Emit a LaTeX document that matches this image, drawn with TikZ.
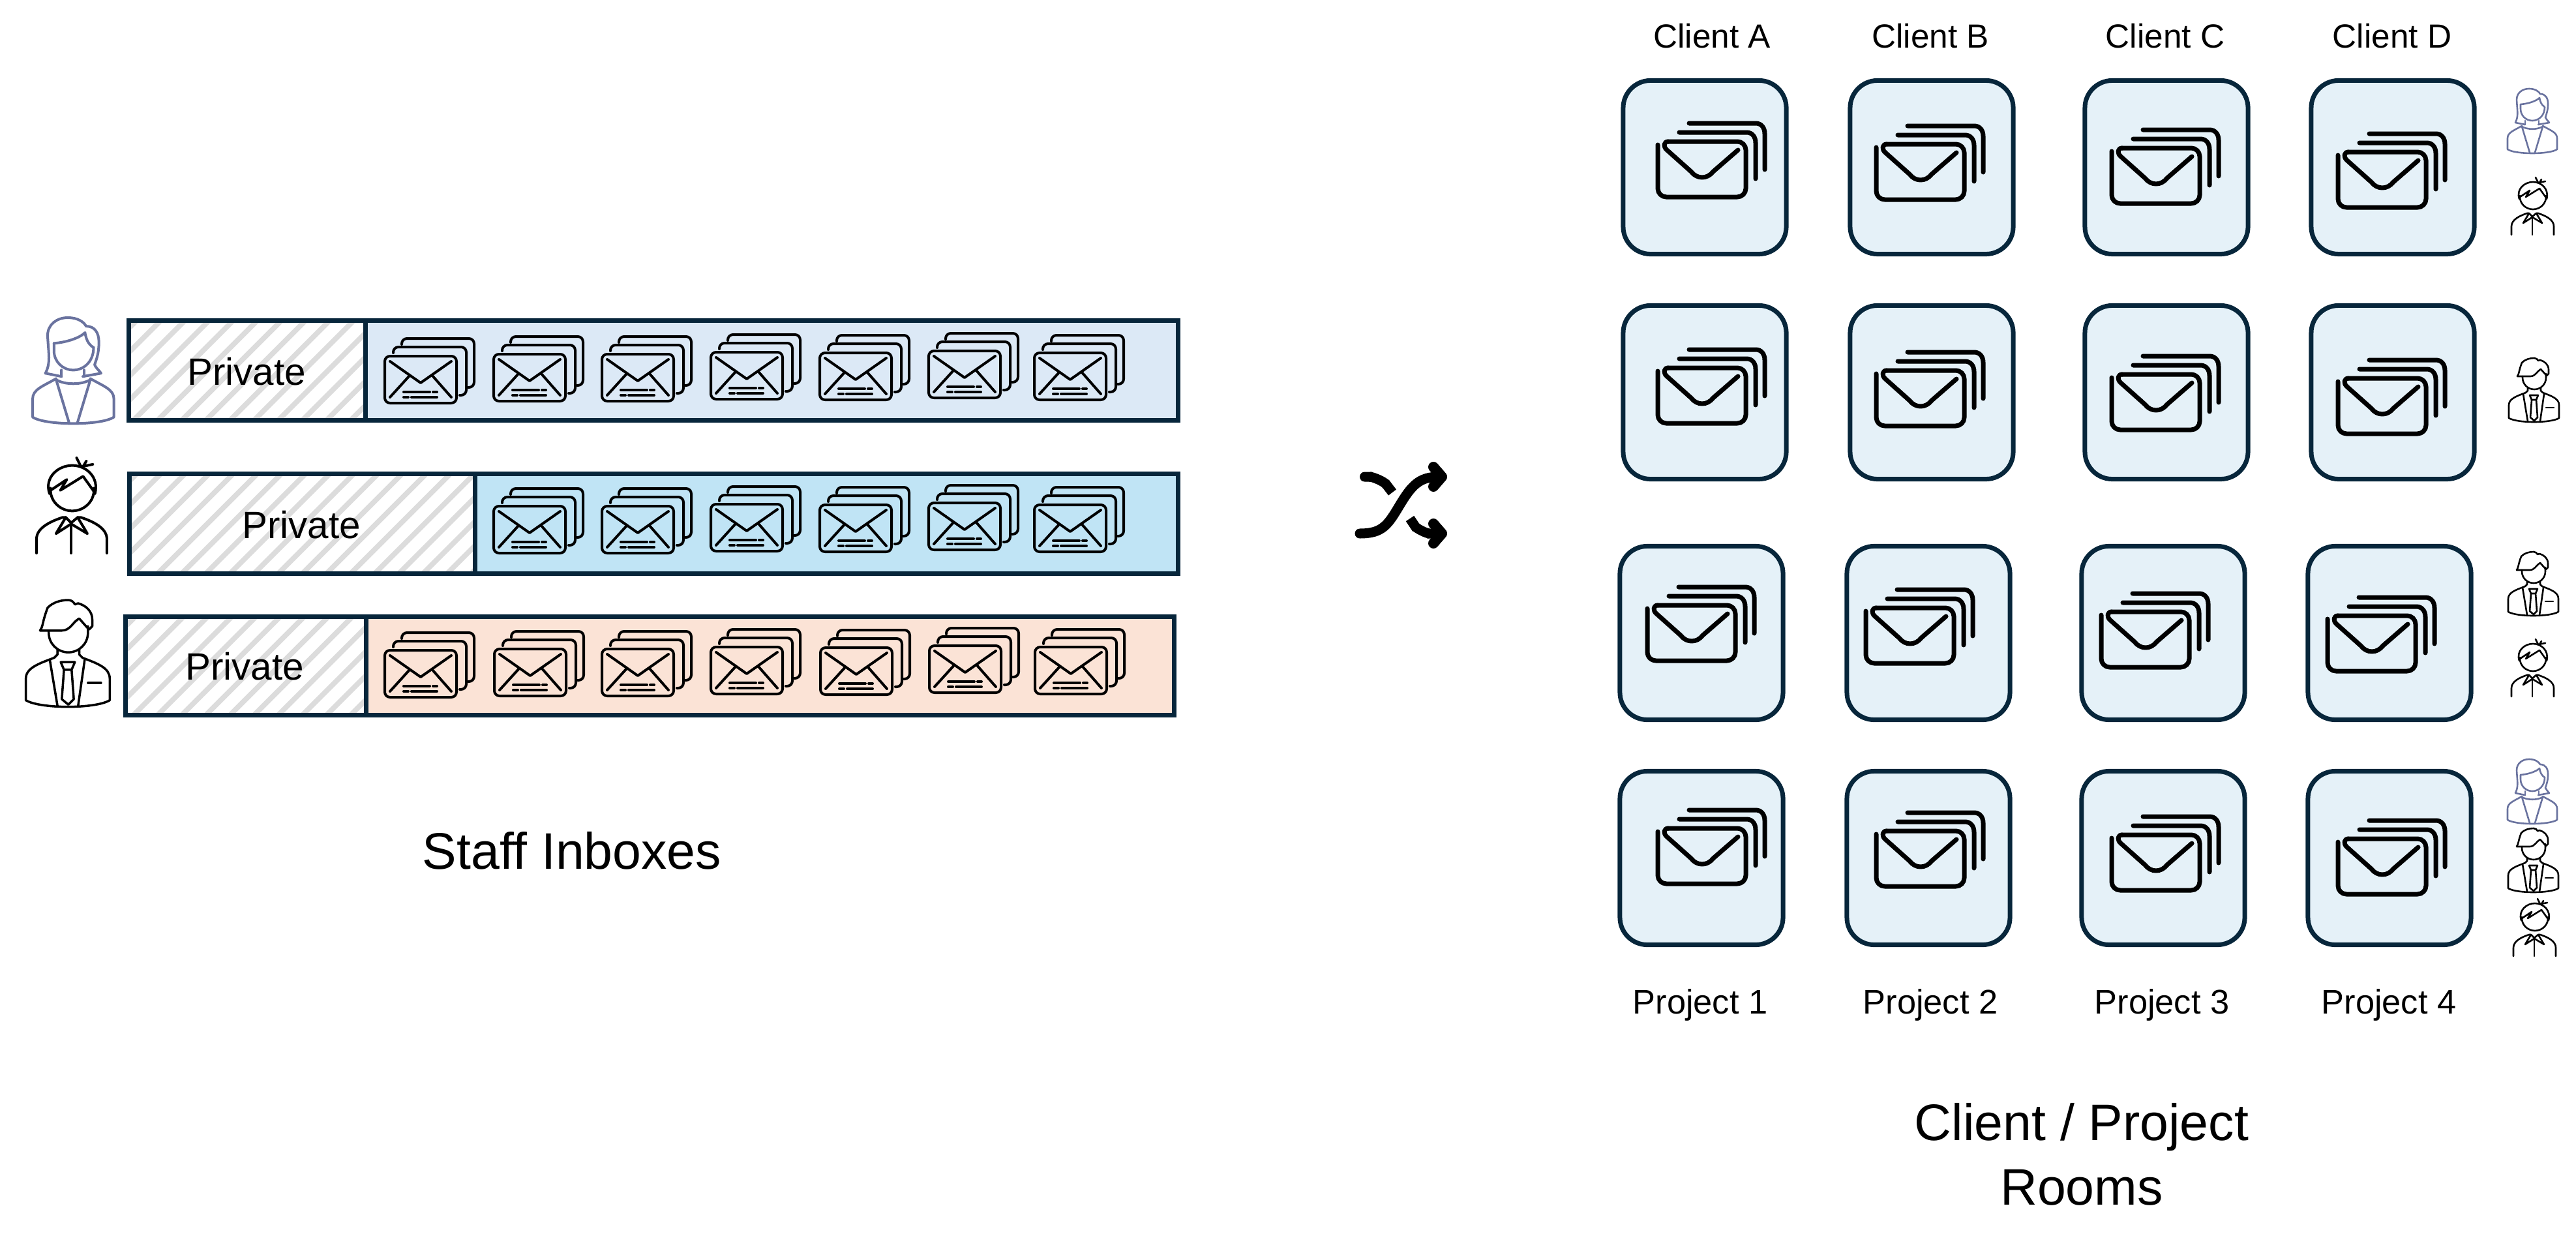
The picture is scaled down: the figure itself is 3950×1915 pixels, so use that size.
\documentclass[tikz,border=0pt]{standalone}
\usepackage{fontspec}
\setmainfont{Liberation Sans}
\usetikzlibrary{arrows.meta}
\definecolor{edge}{HTML}{07263B}
\definecolor{tilefill}{HTML}{E5F1F8}
\definecolor{blueA}{HTML}{DCE9F6}
\definecolor{blueB}{HTML}{C0E4F5}
\definecolor{peach}{HTML}{FBE3D6}
\definecolor{hatchgray}{HTML}{DCDCDC}
\definecolor{staffblue}{HTML}{6A739F}
\tikzset{
  lw/.style={line width=#1*0.2845pt},
  icon/.style={line cap=round,line join=round},
  % stack of letters in the inbox bars
  smail/.pic={
    \draw[rounded corners=.08cm] (2,2) rectangle (112,74);
    \draw[rounded corners=.08cm] (15,-3) -- (15,-12) -- (127,-12) -- (127,62) -- (117,62);
    \draw[rounded corners=.08cm] (28,-16) -- (28,-25) -- (139,-25) -- (139,50) -- (130,50);
    \draw (10,10) -- (57,43) -- (104,10);
    \draw (40,32) -- (10,65) (75,32) -- (104,65);
    \draw (31,57) -- (71,57) (76,57) -- (82,57) (31,65) -- (38,65) (43,65) -- (82,65);
  },
  % stack of letters in the rooms
  bmail/.pic={
    \draw[rounded corners=.13cm] (0,5) -- (0,85) -- (135,85) -- (135,0) -- (16,0);
    \draw (16,0) .. controls (9,0) and (8,8) .. (14,13) -- (51,46) .. controls (60,58) and (76,58) .. (85,46) -- (123,13);
    \draw (33,-14) -- (136,-14) .. controls (145,-14) and (150,-7) .. (150,2) -- (150,57);
    \draw (48,-28) -- (150,-28) .. controls (159,-28) and (164,-21) .. (164,-12) -- (164,43);
  },
  woman/.pic={
    \draw (12,52) .. controls (17,42) and (15,35) .. (14,17) .. controls (14,6) and (23,0) .. (33,0)
      .. controls (42,0) and (48,4) .. (50,8) .. controls (58,8) and (62,14) .. (62,23)
      .. controls (62,33) and (60,38) .. (58,44) .. controls (59,47) and (62,49) .. (64,52) -- (47,55);
    \draw (12,52) -- (27,55);
    \draw (20,24) .. controls (32,23) and (44,19) .. (49,14) .. controls (50,20) and (52,25) .. (57,28);
    \draw (20,24) -- (20,31) .. controls (20,41) and (28,49) .. (38,49) .. controls (48,49) and (57,41) .. (57,28);
    \draw (27,49) -- (27,55) (48,49) -- (48,55);
    \draw (22,58) .. controls (30,63) and (46,63) .. (54,58);
    \draw (22,57) .. controls (10,64) and (0,67) .. (0,76) -- (0,93) .. controls (12,101) and (64,101) .. (76,93) -- (76,76) .. controls (76,67) and (66,64) .. (54,57);
    \draw (22,58) -- (34,98) (54,58) -- (42,98);
  },
  boy/.pic={
    \draw (37,0) -- (41,8) (52,6) -- (42,8) (46,3) -- (43,8);
    \draw (12,33) .. controls (7,18) and (20,7) .. (33,7) .. controls (46,7) and (58,18) .. (54,33);
    \draw (13,30) -- (28,20) -- (22,30) -- (43,17) -- (53,31);
    \draw (13,28) .. controls (12,40) and (22,49) .. (33,49) .. controls (44,49) and (54,40) .. (53,28);
    \draw (0,88) -- (0,75) .. controls (0,65) and (12,59) .. (24,55) -- (27,55) -- (18,70) -- (32,61) -- (47,70) -- (38,55) -- (41,55) .. controls (53,59) and (65,65) .. (65,75) -- (65,88);
    \draw (27,55) -- (32,60) -- (38,55);
    \draw (32,61) -- (32,88);
  },
  man/.pic={
    \draw (14,28) .. controls (17,24) and (16,20) .. (21,7) .. controls (26,2) and (33,0) .. (40,0) .. controls (43,0) and (45,2) .. (46,4) -- (49,3)
      .. controls (56,5) and (62,10) .. (62,18) -- (62,24) -- (59,27);
    \draw (14,28) -- (34,28) .. controls (42,28) and (44,20) .. (50,17) -- (58,26);
    \draw (22,28) -- (22,30) .. controls (22,40) and (30,48) .. (40,48) .. controls (50,48) and (58,40) .. (58,30) -- (58,24);
    \draw (30,46) -- (30,50) -- (27,53) (50,46) -- (50,50) -- (53,53);
    \draw (27,53) .. controls (14,58) and (1,62) .. (1,72) -- (1,92) .. controls (14,100) and (65,100) .. (78,92) -- (78,72) .. controls (78,62) and (66,58) .. (53,53);
    \draw (23,55) -- (30,97) (55,55) -- (49,97);
    \draw (33,57) -- (46,57) -- (43,64) -- (36,64) -- cycle;
    \draw (36,64) -- (34,91) -- (40,96) -- (45,91) -- (43,64);
    \draw (58,76) -- (70,76);
  },
}
\begin{document}
\begin{tikzpicture}[x=0.01cm,y=-0.01cm,
  room/.style={draw=edge,lw=7,fill=tilefill,rounded corners=.42cm,minimum width=2.5cm,minimum height=2.66cm},
  privlabel/.style={font=\fontsize{16.6}{20}\selectfont,anchor=base},
  clientlabel/.style={font=\fontsize{14.6}{18}\selectfont,anchor=base},
  projlabel/.style={font=\fontsize{14.9}{18}\selectfont,anchor=base},
  biglabel/.style={font=\fontsize{22.4}{28}\selectfont,align=center}]
  \useasboundingbox (0,0) rectangle (3950,1915);
  % inbox bars
  \foreach \nm/\xa/\xb/\xc/\ya/\yb/\tint/\tx in {barA/197/560/1806/491/644/blueA/378,barB/198/728/1806/726/879/blueB/462,barC/192/561/1800/945/1096/peach/375} {
    \fill[\tint] (\xb,\ya) rectangle (\xc,\yb);
    \begin{scope}
      \clip (\xa,\ya) rectangle (\xb,\yb);
      \foreach \s in {0,37,...,1000} \draw[hatchgray,lw=8] (\s,\yb+20) -- (\s+200,\yb-180);
    \end{scope}
    \draw[edge,lw=7] (\xa,\ya) rectangle (\xc,\yb) (\xb,\ya) -- (\xb,\yb);
    \node[privlabel] (\nm) at (\tx,\yb-54) {Private};
  }
  % letters in the bars
  \begin{scope}[icon,lw=4]
    \foreach \mx/\my in {588/544,755/541,921/541,1088/538,1255/539,1422/536,1584/539,
                         755/774,921/774,1088/771,1255/772,1422/769,1584/772,
                         588/995,756/993,921/993,1088/990,1256/991,1423/988,1585/990}
      \pic at (\mx,\my) {smail};
  \end{scope}
  % staff
  \pic[icon,lw=4,staffblue,scale=1.64] at (50,487) {woman};
  \pic[icon,lw=4,scale=1.66] at (56,702) {boy};
  \pic[icon,lw=3.5,scale=1.67] at (38,920) {man};
  \node[biglabel,anchor=base] (staff) at (877,1332) {Staff Inboxes};
  % shuffle
  \draw[lw=15,{Round Cap[]}-{Butt Cap[]}] (2085,731) .. controls (2105,731) and (2122,738) .. (2135,755);
  \draw[lw=15,line cap=round] (2085,818) .. controls (2120,818) and (2128,805) .. (2146,775) .. controls (2164,745) and (2176,731) .. (2206,731);
  \draw[lw=15,{Butt Cap[]}-{Round Cap[]}] (2162,795) .. controls (2172,810) and (2187,818) .. (2207,818);
  \draw[lw=16,icon] (2198,716) -- (2211,731) -- (2198,746) (2198,803) -- (2211,818) -- (2198,833);
  % rooms
  \foreach \r/\ty/\tshift/\mbase/\mshift in {1/120/0/217/0,2/465/0/564/0,3/834/-5/928/-16,4/1179/-5/1270/0} {
    \foreach \c/\tx/\mx/\mo in {1/2486/2542/0,2/2834/2877/4,3/3194/3238/10,4/3541/3585/16} {
      \node[room] (t\r\c) at (\tx+\tshift+128,\ty+136.5) {};
      \pic[icon,lw=7] at (\mx+\mshift,\mbase+\mo) {bmail};
    }
  }
  % who is in which room
  \begin{scope}[icon,lw=2.6]
    \pic[staffblue] at (3845,136) {woman};
    \pic at (3851,272) {boy};
    \pic at (3846,549) {man};
    \pic at (3845,846) {man};
    \pic at (3851,980) {boy};
    \pic[staffblue] at (3845,1164) {woman};
    \pic at (3845,1270) {man};
    \pic at (3854,1378) {boy};
  \end{scope}
  % labels
  \foreach \nm/\tx/\lab in {ca/2625/Client A,cb/2960/Client B,cc/3320/Client C,cd/3668/Client D}
    \node[clientlabel] (\nm) at (\tx,73) {\lab};
  \foreach \nm/\tx/\lab in {pa/2607/Project 1,pb/2960/Project 2,pc/3315/Project 3,pd/3663/Project 4}
    \node[projlabel] (\nm) at (\tx,1554) {\lab};
  \node[biglabel] (rooms) at (3192,1770) {Client / Project\\Rooms};
\end{tikzpicture}
\end{document}
